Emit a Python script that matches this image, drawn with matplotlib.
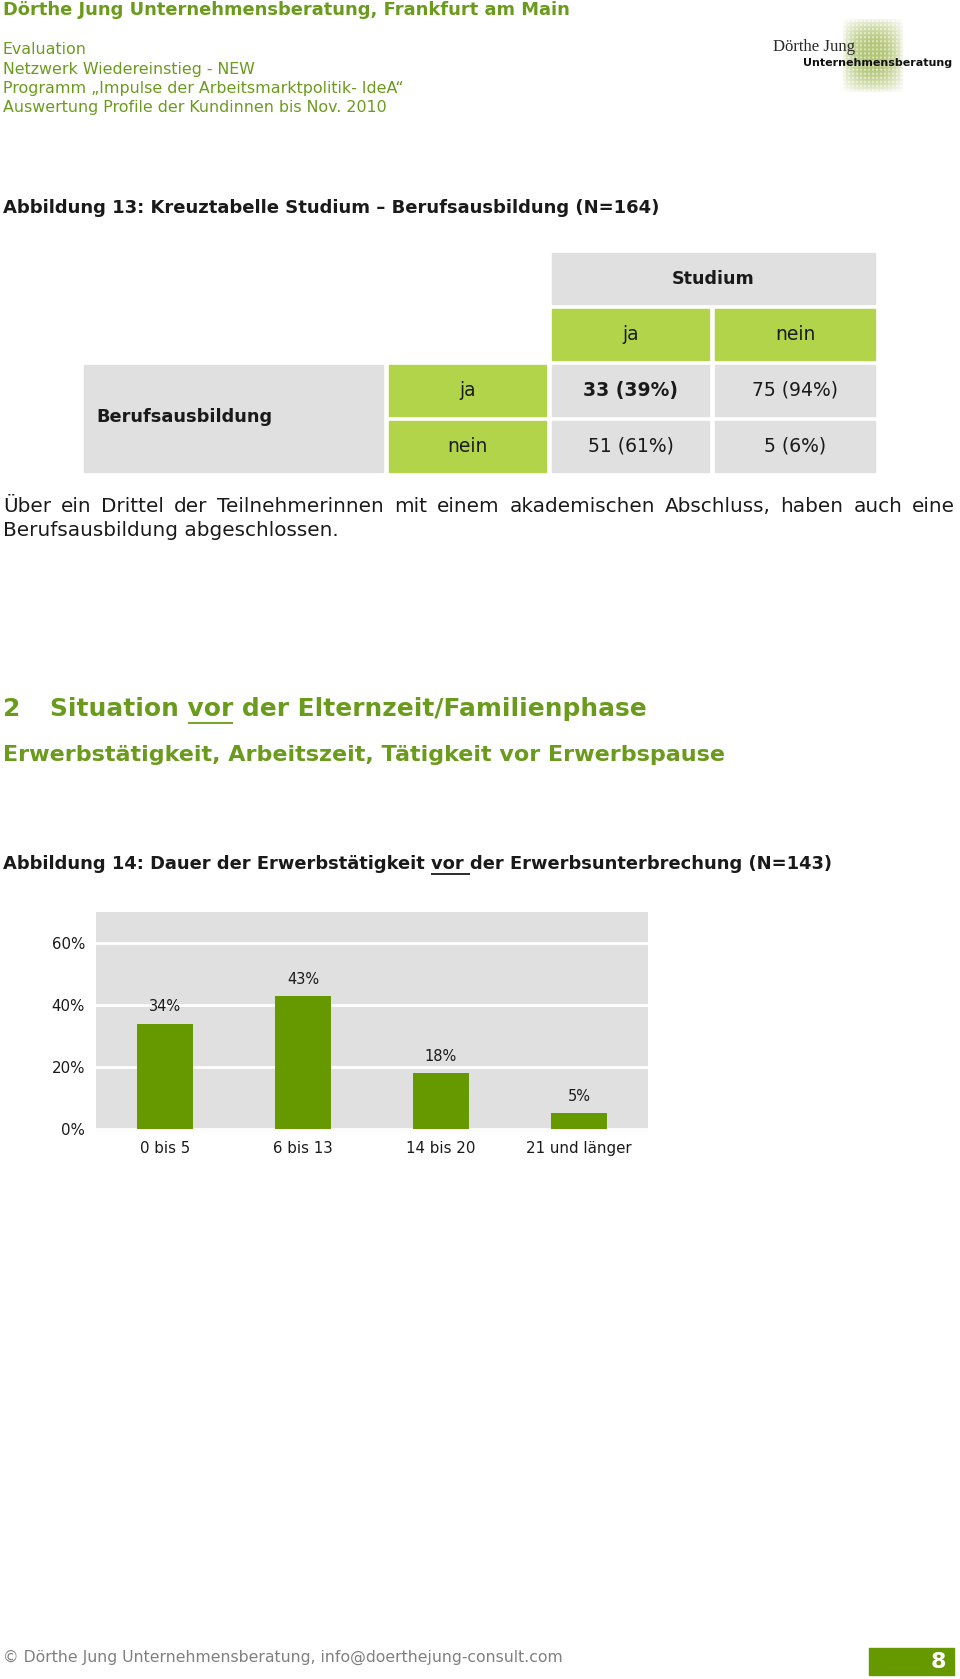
import matplotlib
matplotlib.use('Agg')
import matplotlib.pyplot as plt
from matplotlib.patches import Rectangle
import numpy as np

# --- data -----------------------------------------------------------------
header_lines = [
    'Evaluation',
    'Netzwerk Wiedereinstieg - NEW',
    'Programm \u201eImpulse der Arbeitsmarktpolitik- IdeA\u201c',
    'Auswertung Profile der Kundinnen bis Nov. 2010',
]
studium_cols = ['ja', 'nein']
ausbildung_rows = ['ja', 'nein']
cross_cells = [['33 (39%)', '75 (94%)'],
               ['51 (61%)', '5 (6%)']]
highlight_cell = (0, 0)

categories = ['0 bis 5', '6 bis 13', '14 bis 20', '21 und länger']
shares = [34, 43, 18, 5]
y_ticks = [0, 20, 40, 60]

# --- colours --------------------------------------------------------------
GREEN_TXT = '#6b9b1c'
LIME = '#b1d44a'
GRAY = '#e0e0e0'
BAR_GREEN = '#669900'
TXT = '#1a1a1a'

W, H = 960, 1679
fig = plt.figure(figsize=(W / 100, H / 100), dpi=100)
fig.patch.set_facecolor('white')
renderer = fig.canvas.get_renderer()

# page overlay in pixel coordinates
page = fig.add_axes([0, 0, 1, 1])
page.set_xlim(0, W)
page.set_ylim(H, 0)
page.axis('off')


def text_width(s, size, weight='normal', family='DejaVu Sans'):
    t = page.text(0, 0, s, fontsize=size, fontweight=weight, family=family)
    w = t.get_window_extent(renderer).width
    t.remove()
    return w


def fit_size(s, width, weight='normal', family='DejaVu Sans'):
    return 10 * width / text_width(s, 10, weight, family)


def underline(x0, y, prefix, word, size, weight, color):
    start = x0 + text_width(prefix, size, weight)
    end = start + text_width(word, size, weight)
    page.plot([start, end], [y, y], color=color, lw=1.3, solid_capstyle='butt')


# --- header ---------------------------------------------------------------
title = 'Dörthe Jung Unternehmensberatung, Frankfurt am Main'
page.text(3, 10, title, fontsize=fit_size(title, 566, 'bold'), fontweight='bold',
          color=GREEN_TXT, va='center')
hs = fit_size(header_lines[3], 382)
for i, line in enumerate(header_lines):
    page.text(3, 50 + i * 19.2, line, fontsize=hs, color=GREEN_TXT, va='center')

# logo: soft green grid texture behind the name
ny, nx = 74, 62
fade_y = np.sin(np.linspace(0, np.pi, ny)) ** 0.6
fade_x = np.sin(np.linspace(0, np.pi, nx)) ** 0.6
grid = 0.5 + 0.5 * ((np.arange(ny)[:, None] % 4 < 2) | (np.arange(nx)[None, :] % 4 < 2))
alpha = np.clip(np.outer(fade_y, fade_x) * grid * 1.1, 0, 1)
tex = np.zeros((ny, nx, 4))
tex[..., :3] = np.array([180, 198, 120]) / 255
tex[..., 3] = alpha
page.imshow(tex, extent=(842, 904, 93, 18), interpolation='bilinear', zorder=1, aspect='auto')
page.set_xlim(0, W)
page.set_ylim(H, 0)
page.text(773, 47, 'Dörthe Jung', family='Liberation Serif', color='#2a2a2a', va='center',
          fontsize=fit_size('Dörthe Jung', 82, family='Liberation Serif'), zorder=3)
page.text(803, 63, 'Unternehmensberatung', fontweight='bold', color='#111111', va='center',
          fontsize=fit_size('Unternehmensberatung', 150, 'bold'), zorder=3)

# --- Abbildung 13: cross table -------------------------------------------
abb13 = 'Abbildung 13: Kreuztabelle Studium \u2013 Berufsausbildung (N=164)'
page.text(3, 208, abb13, fontsize=fit_size(abb13, 658, 'bold'), fontweight='bold',
          color=TXT, va='center')

col_x = [(552, 709), (715, 875)]
row_y = [(365, 416), (421, 472)]
cell_size = fit_size('75 (94%)', 86)

page.add_patch(Rectangle((552, 253), 875 - 552, 51, color=GRAY))
page.text((552 + 875) / 2, 279, 'Studium', fontweight='bold', fontsize=fit_size('Studium', 82, 'bold'),
          ha='center', va='center', color=TXT)
for (x0, x1), lab in zip(col_x, studium_cols):
    page.add_patch(Rectangle((x0, 309), x1 - x0, 51, color=LIME))
    page.text((x0 + x1) / 2, 335, lab, fontsize=cell_size, ha='center', va='center', color=TXT)

page.add_patch(Rectangle((84, 365), 383 - 84, 472 - 365, color=GRAY))
page.text(96, 417, 'Berufsausbildung', fontweight='bold',
          fontsize=fit_size('Berufsausbildung', 175, 'bold'), va='center', color=TXT)
for r, ((y0, y1), lab) in enumerate(zip(row_y, ausbildung_rows)):
    page.add_patch(Rectangle((389, y0), 546 - 389, y1 - y0, color=LIME))
    page.text((389 + 546) / 2, (y0 + y1) / 2, lab, fontsize=cell_size, ha='center', va='center', color=TXT)
    for c, (x0, x1) in enumerate(col_x):
        page.add_patch(Rectangle((x0, y0), x1 - x0, y1 - y0, color=GRAY))
        wt = 'bold' if (r, c) == highlight_cell else 'normal'
        page.text((x0 + x1) / 2, (y0 + y1) / 2, cross_cells[r][c], fontsize=cell_size,
                  fontweight=wt, ha='center', va='center', color=TXT)

# paragraph (first line justified)
line1 = 'Über ein Drittel der Teilnehmerinnen mit einem akademischen Abschluss, haben auch eine'
line2 = 'Berufsausbildung abgeschlossen.'
ps = fit_size(line2, 335)
words = line1.split()
ww = [text_width(w, ps) for w in words]
gap = (955 - 3 - sum(ww)) / (len(words) - 1)
x = 3
for w, wd in zip(words, ww):
    page.text(x, 507, w, fontsize=ps, va='center', color=TXT)
    x += wd + gap
page.text(3, 531, line2, fontsize=ps, va='center', color=TXT)

# --- section heading ------------------------------------------------------
sec = 'Situation vor der Elternzeit/Familienphase'
ss = fit_size(sec, 593, 'bold')
page.text(3, 709, '2', fontsize=ss, fontweight='bold', color=GREEN_TXT, va='center')
page.text(50, 709, sec, fontsize=ss, fontweight='bold', color=GREEN_TXT, va='center')
underline(50, 723, 'Situation ', 'vor', ss, 'bold', GREEN_TXT)

sub = 'Erwerbstätigkeit, Arbeitszeit, Tätigkeit vor Erwerbspause'
page.text(3, 755, sub, fontsize=fit_size(sub, 723, 'bold'), fontweight='bold',
          color=GREEN_TXT, va='center')

abb14 = 'Abbildung 14: Dauer der Erwerbstätigkeit vor der Erwerbsunterbrechung (N=143)'
a14 = fit_size(abb14, 830, 'bold')
page.text(3, 864, abb14, fontsize=a14, fontweight='bold', color=TXT, va='center')
underline(3, 874, 'Abbildung 14: Dauer der Erwerbstätigkeit ', 'vor ', a14, 'bold', TXT)

# --- bar chart ------------------------------------------------------------
ax = fig.add_axes([96 / W, 1 - 1131 / H, (648 - 96) / W, (1131 - 912) / H])
ax.set_facecolor(GRAY)
xpos = np.arange(len(categories))
ax.bar(xpos, shares, width=0.4, color=BAR_GREEN, zorder=3)
for xp, v in zip(xpos, shares):
    ax.annotate(f'{v}%', (xp, v), xytext=(0, 12), textcoords='offset points',
                ha='center', va='center', fontsize=10.5, color=TXT)
ax.set_xlim(-0.5, 3.5)
ax.set_ylim(-0.65, 70)
ax.set_yticks(y_ticks)
ax.set_yticklabels([f'{t}%' for t in y_ticks])
ax.set_xticks(xpos)
ax.set_xticklabels(categories)
for t in y_ticks:
    ax.axhline(t, color='white', lw=2, zorder=2)
ax.tick_params(length=0, labelsize=10.8, labelcolor=TXT)
ax.tick_params(axis='y', pad=8)
ax.tick_params(axis='x', pad=7)
for s in ax.spines.values():
    s.set_visible(False)

# --- footer ---------------------------------------------------------------
foot = '\u00a9 Dörthe Jung Unternehmensberatung, info@doerthejung-consult.com'
page.text(3, 1657, foot, fontsize=fit_size(foot, 561), color='#808080', va='center')
page.add_patch(Rectangle((869, 1648), 954 - 869, 27, color=BAR_GREEN))
page.text(946, 1662, '8', fontsize=16, fontweight='bold', color='white', ha='right', va='center')

fig.savefig('out.png', dpi=100, facecolor='white')
